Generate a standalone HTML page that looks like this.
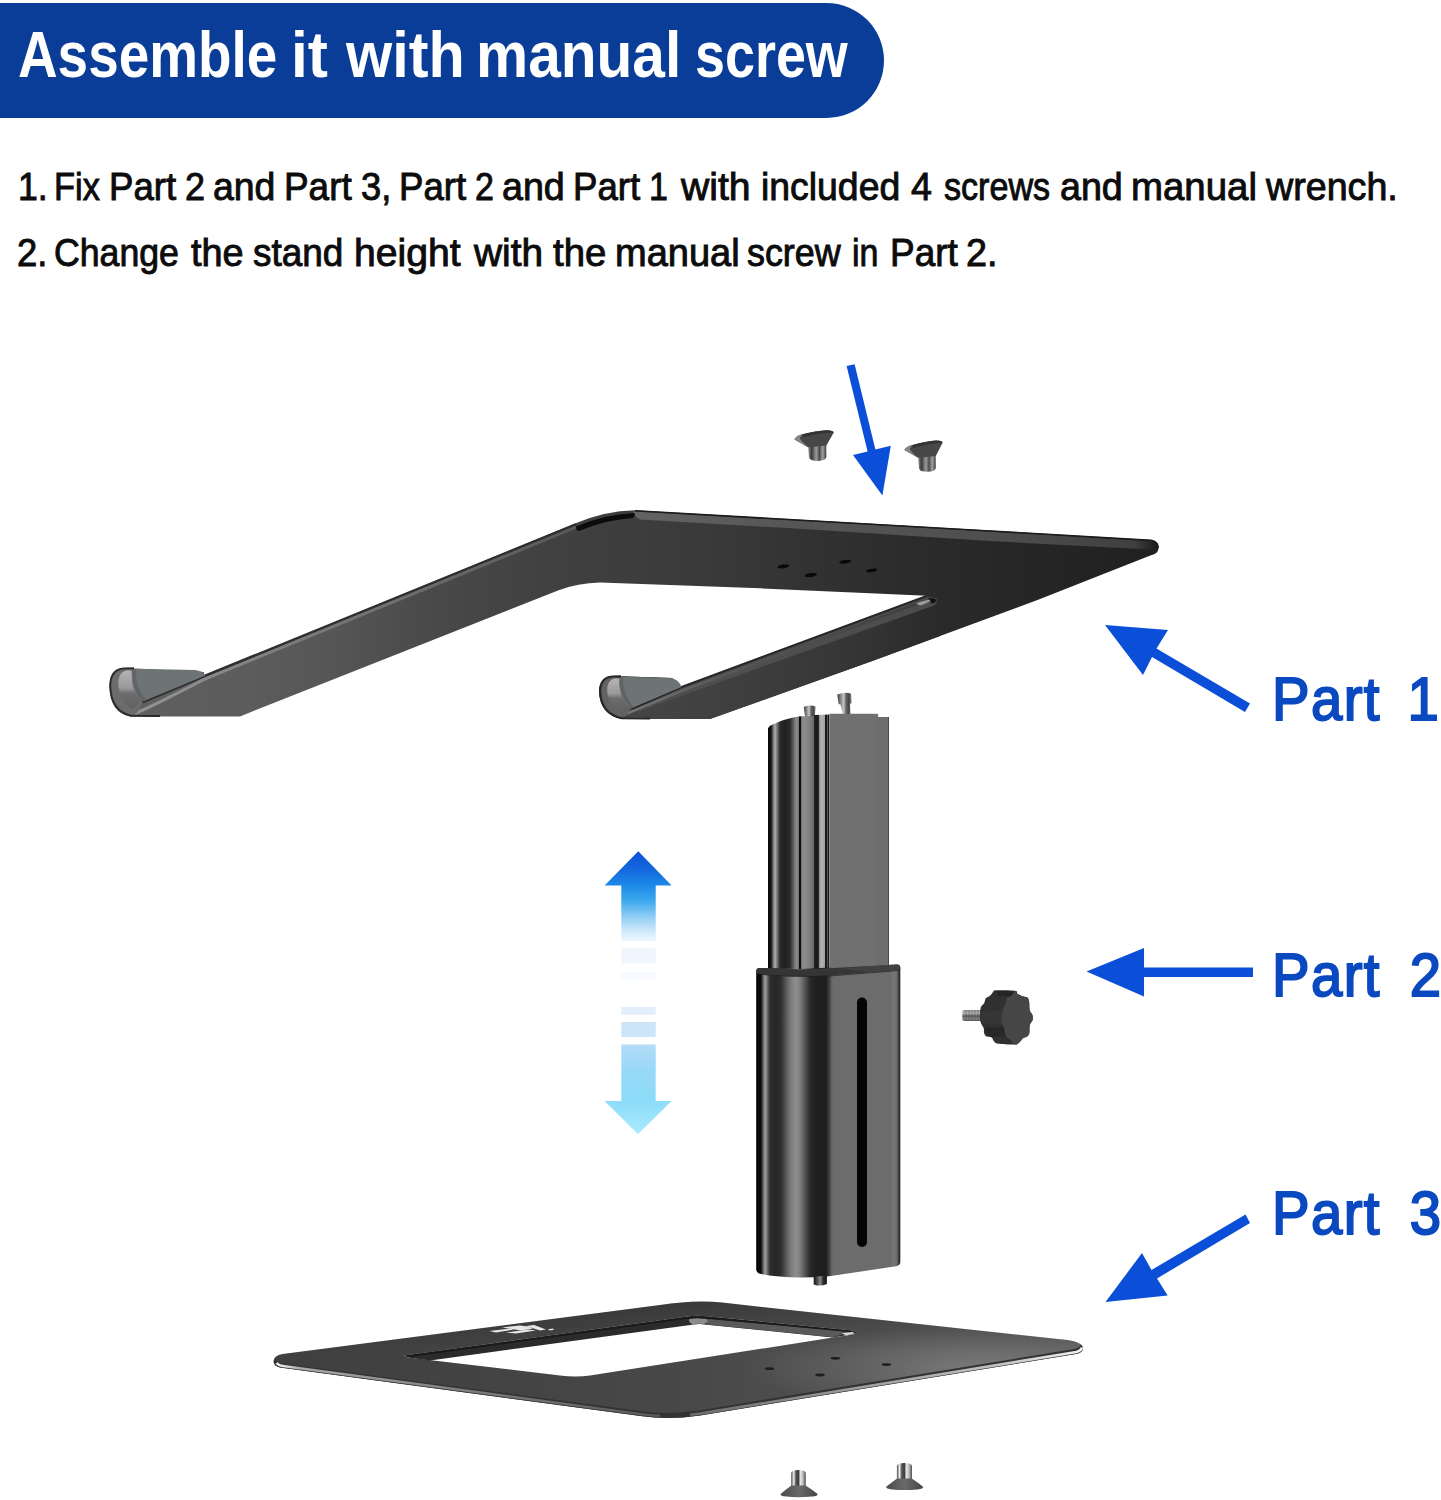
<!DOCTYPE html>
<html lang="en">
<head>
<meta charset="utf-8">
<title>Assemble it with manual screw</title>
<style>
html,body{margin:0;padding:0;background:#fff;overflow:hidden;}
html{width:1441px;height:1500px;}
body{width:1441px;height:1500px;position:relative;overflow:hidden;font-family:"Liberation Sans",sans-serif;}
#art{position:absolute;left:0;top:0;width:1441px;height:1500px;display:block;}
.banner{position:absolute;left:0;top:2.5px;width:884px;height:115px;background:#0a3d97;border-radius:0 57.5px 57.5px 0;}
.title{position:absolute;left:0;top:15.5px;width:880px;height:78px;margin:0;font-size:65px;line-height:78px;font-weight:bold;color:#fff;white-space:nowrap;}
.step{position:absolute;left:0;width:1441px;height:48px;margin:0;font-size:39.5px;line-height:48px;color:#0c0c0c;white-space:nowrap;-webkit-text-stroke:0.95px #0c0c0c;}
.title span,.step span{position:absolute;top:0;transform-origin:0 0;white-space:pre;}
.s1{top:162px;}
.s2{top:227.5px;}
.part{position:absolute;left:1272.4px;margin:0;font-size:61.5px;line-height:70px;color:#0b49c0;white-space:nowrap;-webkit-text-stroke:2px #0b49c0;transform-origin:0 50%;transform:scaleX(0.916);word-spacing:13px;letter-spacing:1.5px;}
.p1{top:664.3px;word-spacing:10.5px;}
.p2{top:940.3px;}
.p3{top:1178.4px;}
</style>
</head>
<body>
<div class="banner"></div>
<h1 class="title"><span style="left:17.5px;transform:scaleX(0.844)">Assemble</span> <span style="left:291.4px;transform:scaleX(0.930)">it</span> <span style="left:345.7px;transform:scaleX(0.913)">with</span> <span style="left:475.7px;transform:scaleX(0.902)">manual</span> <span style="left:694.8px;transform:scaleX(0.829)">screw</span></h1>
<p class="step s1"><span style="left:18.0px;transform:scaleX(0.901)">1.</span> <span style="left:54.0px;transform:scaleX(0.870)">Fix</span> <span style="left:108.8px;transform:scaleX(0.926)">Part</span> <span style="left:185.0px;transform:scaleX(0.911)">2</span> <span style="left:213.3px;transform:scaleX(0.947)">and</span> <span style="left:283.7px;transform:scaleX(0.934)">Part</span> <span style="left:360.5px;transform:scaleX(0.918)">3,</span> <span style="left:398.6px;transform:scaleX(0.926)">Part</span> <span style="left:474.7px;transform:scaleX(0.860)">2</span> <span style="left:501.6px;transform:scaleX(0.953)">and</span> <span style="left:572.8px;transform:scaleX(0.926)">Part</span> <span style="left:648.7px;transform:scaleX(0.860)">1</span> <span style="left:680.7px;transform:scaleX(0.990)">with</span> <span style="left:760.6px;transform:scaleX(0.946)">included</span> <span style="left:911.4px;transform:scaleX(0.952)">4</span> <span style="left:943.8px;transform:scaleX(0.863)">screws</span> <span style="left:1059.6px;transform:scaleX(0.953)">and</span> <span style="left:1130.7px;transform:scaleX(0.972)">manual</span> <span style="left:1265.8px;transform:scaleX(0.953)">wrench.</span></p>
<p class="step s2"><span style="left:17.4px;transform:scaleX(0.922)">2.</span> <span style="left:54.2px;transform:scaleX(0.903)">Change</span> <span style="left:190.5px;transform:scaleX(0.958)">the</span> <span style="left:252.9px;transform:scaleX(0.935)">stand</span> <span style="left:353.8px;transform:scaleX(0.990)">height</span> <span style="left:474.0px;transform:scaleX(0.982)">with</span> <span style="left:553.3px;transform:scaleX(0.970)">the</span> <span style="left:615.3px;transform:scaleX(0.962)">manual</span> <span style="left:747.3px;transform:scaleX(0.908)">screw</span> <span style="left:852.4px;transform:scaleX(0.860)">in</span> <span style="left:890.2px;transform:scaleX(0.936)">Part</span> <span style="left:966.3px;transform:scaleX(0.956)">2.</span></p>
<svg id="art" viewBox="0 0 1441 1500" width="1441" height="1500">
<defs>
<linearGradient id="g1plate" gradientUnits="userSpaceOnUse" x1="110" y1="0" x2="1160" y2="0">
  <stop offset="0.0000" stop-color="#606060"/>
  <stop offset="0.1333" stop-color="#5c5c5c"/>
  <stop offset="0.2095" stop-color="#565656"/>
  <stop offset="0.2762" stop-color="#4d4d4d"/>
  <stop offset="0.3429" stop-color="#464646"/>
  <stop offset="0.4286" stop-color="#404040"/>
  <stop offset="0.5048" stop-color="#3d3d3d"/>
  <stop offset="0.5619" stop-color="#3a3a3a"/>
  <stop offset="0.6571" stop-color="#333333"/>
  <stop offset="0.7524" stop-color="#2c2c2c"/>
  <stop offset="0.8476" stop-color="#272727"/>
  <stop offset="1.0000" stop-color="#202020"/>
</linearGradient>
<linearGradient id="g1rarm" gradientUnits="userSpaceOnUse" x1="600" y1="0" x2="940" y2="0">
  <stop offset="0.0000" stop-color="#464646"/>
  <stop offset="0.2941" stop-color="#414141"/>
  <stop offset="0.5882" stop-color="#3a3a3a"/>
  <stop offset="0.8235" stop-color="#323232"/>
  <stop offset="1.0000" stop-color="#2a2a2a"/>
</linearGradient>
<linearGradient id="g1strip" gradientUnits="userSpaceOnUse" x1="630" y1="0" x2="1160" y2="0">
  <stop offset="0" stop-color="#646464"/>
  <stop offset="0.3" stop-color="#565656"/>
  <stop offset="0.7" stop-color="#4e4e4e"/>
  <stop offset="0.95" stop-color="#404040"/>
  <stop offset="1" stop-color="#181818"/>
</linearGradient>
<linearGradient id="g1hl" gradientUnits="userSpaceOnUse" x1="130" y1="0" x2="580" y2="0">
  <stop offset="0" stop-color="#959595"/>
  <stop offset="0.35" stop-color="#7c7c7c"/>
  <stop offset="1" stop-color="#585858"/>
</linearGradient>
<linearGradient id="g1hl2" gradientUnits="userSpaceOnUse" x1="620" y1="0" x2="940" y2="0">
  <stop offset="0" stop-color="#787878"/>
  <stop offset="0.3" stop-color="#5a5a5a"/>
  <stop offset="1" stop-color="#3a3a3a"/>
</linearGradient>
<linearGradient id="glip" x1="0" y1="0" x2="0" y2="1">
  <stop offset="0" stop-color="#b4b4b4"/>
  <stop offset="0.45" stop-color="#9a9a9a"/>
  <stop offset="0.6" stop-color="#6c6c6c"/>
  <stop offset="1" stop-color="#606060"/>
</linearGradient>

<linearGradient id="gcolA" gradientUnits="userSpaceOnUse" x1="768" y1="0" x2="801" y2="0">
  <stop offset="0.0000" stop-color="#080808"/>
  <stop offset="0.0909" stop-color="#141414"/>
  <stop offset="0.1515" stop-color="#6a6a6a"/>
  <stop offset="0.2121" stop-color="#b0b0b0"/>
  <stop offset="0.2727" stop-color="#7a7a7a"/>
  <stop offset="0.3636" stop-color="#2a2a2a"/>
  <stop offset="0.5152" stop-color="#202020"/>
  <stop offset="0.6667" stop-color="#2a2a2a"/>
  <stop offset="0.7576" stop-color="#585858"/>
  <stop offset="0.8485" stop-color="#8a8a8a"/>
  <stop offset="0.9273" stop-color="#7a7a7a"/>
  <stop offset="0.9515" stop-color="#0c0c0c"/>
  <stop offset="1.0000" stop-color="#0c0c0c"/>
</linearGradient>
<linearGradient id="gcolB" gradientUnits="userSpaceOnUse" x1="801" y1="0" x2="829.5" y2="0">
  <stop offset="0.0000" stop-color="#6a6a6a"/>
  <stop offset="0.0702" stop-color="#8e8e8e"/>
  <stop offset="0.2105" stop-color="#868686"/>
  <stop offset="0.3509" stop-color="#7a7a7a"/>
  <stop offset="0.4386" stop-color="#6a6a6a"/>
  <stop offset="0.4737" stop-color="#222222"/>
  <stop offset="0.5614" stop-color="#181818"/>
  <stop offset="0.6246" stop-color="#2c2c2c"/>
  <stop offset="0.6526" stop-color="#a0a0a0"/>
  <stop offset="0.7368" stop-color="#b2b2b2"/>
  <stop offset="0.8281" stop-color="#a0a0a0"/>
  <stop offset="0.8561" stop-color="#1a1a1a"/>
  <stop offset="0.8982" stop-color="#1a1a1a"/>
  <stop offset="0.9263" stop-color="#5a5a5a"/>
  <stop offset="0.9614" stop-color="#141414"/>
  <stop offset="1.0000" stop-color="#4a4a4a"/>
</linearGradient>
<linearGradient id="gsleeve" gradientUnits="userSpaceOnUse" x1="756" y1="0" x2="900.5" y2="0">
  <stop offset="0.0000" stop-color="#050505"/>
  <stop offset="0.0346" stop-color="#0c0c0c"/>
  <stop offset="0.0484" stop-color="#5a5a5a"/>
  <stop offset="0.0623" stop-color="#a0a0a0"/>
  <stop offset="0.0796" stop-color="#6a6a6a"/>
  <stop offset="0.0969" stop-color="#2e2e2e"/>
  <stop offset="0.1384" stop-color="#262626"/>
  <stop offset="0.1730" stop-color="#2e2e2e"/>
  <stop offset="0.2076" stop-color="#585858"/>
  <stop offset="0.2422" stop-color="#7c7c7c"/>
  <stop offset="0.2768" stop-color="#8e8e8e"/>
  <stop offset="0.3045" stop-color="#7e7e7e"/>
  <stop offset="0.3391" stop-color="#555555"/>
  <stop offset="0.3737" stop-color="#2a2a2a"/>
  <stop offset="0.4152" stop-color="#1e1e1e"/>
  <stop offset="0.4844" stop-color="#1e1e1e"/>
  <stop offset="0.5052" stop-color="#3a3a3a"/>
  <stop offset="0.5260" stop-color="#686868"/>
  <stop offset="0.5398" stop-color="#6c6c6c"/>
  <stop offset="0.9273" stop-color="#6c6c6c"/>
  <stop offset="0.9550" stop-color="#777777"/>
  <stop offset="0.9758" stop-color="#6a6a6a"/>
  <stop offset="0.9896" stop-color="#333333"/>
  <stop offset="1.0000" stop-color="#1a1a1a"/>
</linearGradient>
<linearGradient id="gpin" x1="0" y1="0" x2="1" y2="0">
  <stop offset="0" stop-color="#3a3a3a"/>
  <stop offset="0.25" stop-color="#8a8a8a"/>
  <stop offset="0.45" stop-color="#c8c8c8"/>
  <stop offset="0.6" stop-color="#6a6a6a"/>
  <stop offset="0.8" stop-color="#444444"/>
  <stop offset="1" stop-color="#808080"/>
</linearGradient>
<linearGradient id="gpin2" x1="0" y1="0" x2="1" y2="0">
  <stop offset="0" stop-color="#111"/>
  <stop offset="0.3" stop-color="#555"/>
  <stop offset="0.5" stop-color="#8a8a8a"/>
  <stop offset="0.7" stop-color="#333"/>
  <stop offset="1" stop-color="#111"/>
</linearGradient>
<linearGradient id="gscrewv" x1="0" y1="0" x2="0" y2="1">
  <stop offset="0" stop-color="#8e8e8e"/>
  <stop offset="0.3" stop-color="#b5b5b5"/>
  <stop offset="0.55" stop-color="#5a5a5a"/>
  <stop offset="0.8" stop-color="#8a8a8a"/>
  <stop offset="1" stop-color="#555"/>
</linearGradient>

<linearGradient id="gup" gradientUnits="userSpaceOnUse" x1="0" y1="851" x2="0" y2="942">
  <stop offset="0" stop-color="#0d4fd6"/>
  <stop offset="0.2" stop-color="#1467de"/>
  <stop offset="0.38" stop-color="#1c8ae8"/>
  <stop offset="0.55" stop-color="#3ea9ee"/>
  <stop offset="0.72" stop-color="#8fcdf5"/>
  <stop offset="0.88" stop-color="#cfe9fb"/>
  <stop offset="1" stop-color="#f1f8fe"/>
</linearGradient>
<linearGradient id="gdown" gradientUnits="userSpaceOnUse" x1="0" y1="1044" x2="0" y2="1134">
  <stop offset="0" stop-color="#b4dcf7"/>
  <stop offset="0.3" stop-color="#98d8f8"/>
  <stop offset="0.62" stop-color="#8cdcf9"/>
  <stop offset="1" stop-color="#aaeafc"/>
</linearGradient>

<linearGradient id="gbase" gradientUnits="userSpaceOnUse" x1="273" y1="0" x2="1085" y2="0">
  <stop offset="0.0000" stop-color="#3f3f3f"/>
  <stop offset="0.2549" stop-color="#434343"/>
  <stop offset="0.5012" stop-color="#484848"/>
  <stop offset="0.6798" stop-color="#4f4f4f"/>
  <stop offset="0.8461" stop-color="#575757"/>
  <stop offset="1.0000" stop-color="#5a5a5a"/>
</linearGradient>
<linearGradient id="gbedgeR" gradientUnits="userSpaceOnUse" x1="690" y1="0" x2="1082" y2="0">
  <stop offset="0" stop-color="#6a6a6a"/>
  <stop offset="0.4" stop-color="#9a9a9a"/>
  <stop offset="0.8" stop-color="#c4c4c4"/>
  <stop offset="1" stop-color="#f2f2f2"/>
</linearGradient>
<linearGradient id="gbedgeL" gradientUnits="userSpaceOnUse" x1="278" y1="0" x2="660" y2="0">
  <stop offset="0" stop-color="#f0f0f0"/>
  <stop offset="0.06" stop-color="#a8a8a8"/>
  <stop offset="0.5" stop-color="#7c7c7c"/>
  <stop offset="1" stop-color="#5a5a5a"/>
</linearGradient>
<linearGradient id="gshaft" x1="0" y1="0" x2="1" y2="0">
  <stop offset="0" stop-color="#4a4a4a"/>
  <stop offset="0.18" stop-color="#f0f0f0"/>
  <stop offset="0.32" stop-color="#555"/>
  <stop offset="0.5" stop-color="#3c3c3c"/>
  <stop offset="0.62" stop-color="#e8e8e8"/>
  <stop offset="0.8" stop-color="#bdbdbd"/>
  <stop offset="1" stop-color="#4c4c4c"/>
</linearGradient>
<linearGradient id="gshaft2" x1="0" y1="0" x2="1" y2="0">
  <stop offset="0" stop-color="#9a9a9a"/>
  <stop offset="0.2" stop-color="#3a3a3a"/>
  <stop offset="0.45" stop-color="#9c9c9c"/>
  <stop offset="0.62" stop-color="#4a4a4a"/>
  <stop offset="0.8" stop-color="#a2a2a2"/>
  <stop offset="1" stop-color="#3c3c3c"/>
</linearGradient>
<linearGradient id="gcone" x1="0" y1="0" x2="1" y2="0">
  <stop offset="0" stop-color="#4a4a4a"/>
  <stop offset="0.5" stop-color="#6a6a6a"/>
  <stop offset="1" stop-color="#454545"/>
</linearGradient>

<clipPath id="cbase"><path clip-rule="evenodd" d="M282.5,1354 L660,1305 Q695,1299.5 722,1302.6 L1067.5,1340 Q1082,1342 1083,1347.6 Q1083,1352.6 1077.5,1353.8 L700,1415.4 Q668,1420 642.5,1416.2 L280,1367.6 Q273.4,1366 273.6,1361 Q274,1355.6 282.5,1354 Z
   M405,1355.4 L686,1316.8 Q695,1315.2 706,1316.2 L852,1330.4 Q858,1331.2 857,1333.4 L852,1334.6 L590,1375.6 Q575,1377.4 560,1375.4 L408,1357.6 Q403,1356.6 405,1355.4 Z"/></clipPath>
<radialGradient id="gbhi" gradientUnits="userSpaceOnUse" cx="0" cy="0" r="1" gradientTransform="translate(975 1368) scale(230 42)">
  <stop offset="0" stop-color="#ffffff" stop-opacity="0.2"/>
  <stop offset="0.5" stop-color="#ffffff" stop-opacity="0.1"/>
  <stop offset="1" stop-color="#ffffff" stop-opacity="0"/>
</radialGradient>
<linearGradient id="gbback" gradientUnits="userSpaceOnUse" x1="0" y1="1298" x2="0" y2="1350">
  <stop offset="0" stop-color="#000000" stop-opacity="0.22"/>
  <stop offset="1" stop-color="#000000" stop-opacity="0"/>
</linearGradient>
</defs>

<!--PART1-->
<g id="part1">
  <!-- silhouette -->
  <path fill="url(#g1plate)" d="M124,668 L204,672 L204,676 L540,538 L575,523.6 Q604,511 635,510.3 L990,530.6 L1151,540 Q1159,541.5 1158.6,548 Q1158,554 1151,555.2 L1037.5,600 L875,660 L710,719 L622,719 Q600,715 599,691 Q600,677 612.5,676 L672,678 L681,687 L926.7,595.8 L760,588.3 L600,582.6 Q578,583 558,590.5 L240,716.4 L130,716.4 Q110,713 109.4,686 Q110,669 124,668 Z"/>
  <path fill="url(#g1rarm)" d="M710,719 L622,719 Q600,715 599,691 Q600,677 612.5,676 L672,678 L681,687 L926.7,595.8 L936.7,598.3 L940,636 L875,660 Z"/>
  <!-- top strip (plate thickness) -->
  <path fill="url(#g1strip)" d="M633,511.5 L990,531.6 L1151,541 Q1158,543 1157.5,548 L1150,549.5 L990,541 L800,528.7 L640,519.5 Q634,516 633,511.5 Z"/>
  <path fill="none" stroke="#1c1c1c" stroke-width="1.6" d="M635,510.8 L990,531 L1151,540.4 Q1158.5,542 1158,548"/>
  <!-- shadow crescent at bend -->
  <path fill="#0b0b0b" d="M576,526.5 Q604,514.5 634,513 Q636,515 633,518 Q606,519.5 579,531 Q575,530 576,526.5 Z"/>
  <!-- left arm edge: dark line + highlight -->
  <path fill="none" stroke="#2e2e2e" stroke-width="2.6" d="M142,702.3 L204,676.2 L576,524.4"/>
  <path fill="none" stroke="url(#g1hl)" stroke-width="3" d="M135,713.4 Q150,707.6 204,679.4 L576,527.2"/>
  <!-- right arm inner band -->
  <path fill="#505050" opacity="0.9" d="M926.7,596.3 L936.5,598.5 Q938.4,603 934,605.4 L770,664 L640,711 L630,709.5 L683,687 Z"/>
  <path fill="none" stroke="#262626" stroke-width="2.2" d="M631,709.2 L681,687.2 L926.7,596"/>
  <path fill="none" stroke="url(#g1hl2)" stroke-width="2.6" d="M625,714.4 L683,690.4 L926,600.4"/>
  <path fill="#9a9a9a" d="M916,603.5 Q926,599.5 931,599.8 Q929,603 920,605.5 Z"/>
  <path fill="#111" d="M927,598 Q934,597.5 936.6,600 Q935,603.5 931,603.5 Q932,600.5 927,598 Z"/>
  <!-- holes -->
  <g fill="#090909">
    <ellipse cx="783.3" cy="566.4" rx="6" ry="1.8" transform="rotate(-9 783.3 566.4)"/>
    <ellipse cx="810.8" cy="575" rx="6.2" ry="1.9" transform="rotate(-9 810.8 575)"/>
    <ellipse cx="845.3" cy="561.7" rx="6.2" ry="1.8" transform="rotate(-8 845.3 561.7)"/>
    <ellipse cx="871.7" cy="570.4" rx="5.6" ry="1.7" transform="rotate(-9 871.7 570.4)"/>
  </g>
  <!-- hooks -->
  <g id="hookL">
    <path fill="#6c6c6c" d="M125,669.3 Q111.5,670.5 111.6,686 Q112,709 131,714.6 L137,713 L143,702 Q131,692 131,672 Z"/>
    <path fill="url(#glip)" d="M127,670.2 Q117.5,672 118.4,686 Q119.4,702 133,709 L141,700.5 Q131,690 131.6,670.6 Z"/>
    <path fill="#6e7375" d="M136,668.8 L195,670 Q203,670.8 205.5,675.4 L143.5,701.2 Q137,698 133,686 Q130,670 136,668.8 Z"/>
    <path fill="#5f6466" d="M133,672 Q131,690 143.5,701.2 L146,700 Q135,688 136,669 Z"/>
    <path fill="none" stroke="#2a2a2a" stroke-width="1.8" d="M134,668.2 L124,668.4 Q110.2,669.4 110.2,686 Q110.8,711 131,715.8 L160,716"/>
  </g>
  <g id="hookR">
    <path fill="#626262" d="M613.5,677.3 Q601.5,678.5 601.6,691 Q602,711.5 621,717 L627,715.6 L631,708 Q619,699 619,680 Z"/>
    <path fill="url(#glip)" d="M615,678.2 Q606.5,680 607.2,691 Q608.2,705.5 621,712 L629,706.5 Q619,697 619.6,678.6 Z"/>
    <path fill="#6e7375" d="M622,676.8 L672,678.2 Q679,680 681.5,687 L631,708.4 Q623,703 620.5,692 Q617,677 622,676.8 Z"/>
    <path fill="#5f6466" d="M620,679 Q618.5,696 631,708.4 L633.5,707.3 Q622.5,694 623,677 Z"/>
    <path fill="none" stroke="#262626" stroke-width="1.8" d="M621,676.2 L612.5,676.4 Q600,677.4 600,691 Q600.6,714 622,718.4 L650,718.6"/>
  </g>
</g>
<!--PART2-->
<g id="part2">
  <!-- pins on top -->
  <path fill="url(#gpin)" d="M803.7,707 Q809.5,704.5 815.6,706.5 L814.6,720 L805.6,720 Z"/>
  <path fill="url(#gpin)" d="M837.3,694.5 Q844,691.5 851,693.5 L851.6,703 L850,704 L850.5,716 L843.5,716 L840.5,704.5 L838.6,704 Z"/>
  <!-- inner column -->
  <path fill="url(#gcolA)" d="M768,728.5 Q768.5,726.5 771,725.3 Q784,718.6 800,716.2 L801,716.2 L801,972 L768,972 Z"/>
  <path fill="url(#gcolB)" d="M801,716.3 L813.7,716.3 L814,715 L829.5,714.6 L829.5,972 L801,972 Z"/>
  <path fill="#707070" d="M829.5,713.8 L877.5,713.8 L877.5,972 L829.5,972 Z"/>
  <path fill="#6e6e6e" d="M877.5,717 L888.8,717 L888.8,972 L877.5,972 Z"/>
  <path fill="none" stroke="#666666" stroke-width="1" d="M877.7,714 L877.7,966"/>
  <path fill="none" stroke="#4a4a4a" stroke-width="1" d="M888.5,717 L888.5,966"/>
  <!-- sleeve -->
  <path fill="url(#gsleeve)" d="M756.2,971 Q756.2,968.3 759,968 L800,969 L830,967.5 L897,964.6 Q900.3,964.6 900.3,968 L900.3,1262 Q900.3,1265.6 896,1266.3 L829,1276.3 Q800,1278.5 780,1276.6 Q764,1275 759,1273.4 Q756.2,1272.4 756.2,1269 Z"/>
  <!-- sleeve top rim -->
  <path fill="#353535" d="M756.6,970.5 Q757,968.2 759.5,968 L768,968 L801,969.5 L829.5,968.2 L889,965 L897,964.6 Q900,964.8 900.2,967.5 L900.2,969.8 L829.5,975.4 Q800,977 780,975.8 Q764,974.8 756.6,973.4 Z"/>
  <path fill="#4a4a4a" d="M889,965 L897,964.6 Q900,964.8 900.2,967.5 L900.2,969.6 L870,972 L840,968.6 Z" opacity="0.6"/>
  <path fill="none" stroke="#1e1e1e" stroke-width="1" opacity="0.7" d="M757,974 Q790,977.6 829.5,976 L900,970.4"/>
  <!-- slot -->
  <rect x="857" y="997.6" width="10" height="249.4" rx="5" ry="5" fill="#050505"/>
  <!-- bottom pin -->
  <path fill="url(#gpin2)" d="M813.7,1276.5 L826.9,1276 L826.9,1284 Q820,1287 813.7,1284.4 Z"/>
</g>
<!--PART3-->
<g id="part3">
  <!-- plate top surface with cutout -->
  <path fill="url(#gbase)" fill-rule="evenodd" d="M282.5,1354 L660,1305 Q695,1299.5 722,1302.6 L1067.5,1340 Q1082,1342 1083,1347.6 Q1083,1352.6 1077.5,1353.8 L700,1415.4 Q668,1420 642.5,1416.2 L280,1367.6 Q273.4,1366 273.6,1361 Q274,1355.6 282.5,1354 Z
   M405,1355.4 L686,1316.8 Q695,1315.2 706,1316.2 L852,1330.4 Q858,1331.2 857,1333.4 L852,1334.6 L590,1375.6 Q575,1377.4 560,1375.4 L408,1357.6 Q403,1356.6 405,1355.4 Z"/>
  <g clip-path="url(#cbase)">
    <rect x="270" y="1295" width="820" height="60" fill="url(#gbback)"/>
    <rect x="700" y="1300" width="400" height="125" fill="url(#gbhi)"/>
  </g>
  <!-- cutout inner wall -->
  <path fill="#2b2b2b" d="M405,1355.4 L686,1316.8 Q695,1315.2 706,1316.2 L852,1330.4 Q858,1331.2 857,1333.4 L832.5,1337.5 L704,1324.4 Q700,1323.6 694,1324.4 L430,1360.4 L408,1357.6 Q403,1356.6 405,1355.4 Z"/>
  <path fill="#5a5a5a" d="M708,1318.6 L850,1332.2 L832.5,1337.3 L706,1324.4 Z"/>
  <path fill="#8c8c8c" d="M690,1318.6 Q697,1317.2 706,1318.6 Q710,1322 704,1324 Q698,1323.4 692,1324.2 Q687,1321 690,1318.6 Z"/>
  <path fill="#d8d8d8" d="M842,1333.2 L852.4,1332 L855,1333.2 L846,1335.4 Z"/>
  <path fill="#1a1a1a" d="M405.4,1355.6 L686,1317 Q695,1315.6 706,1316.6 L852,1330.8 L852,1332 L706,1318.8 Q696,1317.6 688,1318.8 L410,1357 Z"/>
  <!-- front edges (thickness) -->
  <path fill="#333333" d="M1083,1347.6 Q1083,1352.6 1077.5,1353.8 L700,1415.4 Q668,1420 642.5,1416.2 L280,1367.6 Q273.4,1366 273.6,1361 L276,1359.4 Q277,1362.8 283,1363.6 L644,1411.6 Q668,1414.8 699,1410.4 L1074,1349 Q1080,1347.8 1081,1344.4 Z"/>
  <path fill="none" stroke="url(#gbedgeR)" stroke-width="2.6" d="M690,1414.8 L700,1413.6 L1076.5,1352 Q1081.5,1350.6 1081.8,1347.4"/>
  <path fill="none" stroke="url(#gbedgeL)" stroke-width="2.4" d="M276.6,1363 Q278.6,1365.6 283,1366 L642.5,1414.4 Q652,1415.6 660,1415.8"/>
  <!-- logo -->
  <g fill="#e6e6e6">
    <path d="M489.5,1331 L510,1328.4 L514,1329.6 L496,1332.4 Z"/>
    <path d="M502,1327.6 L520,1325.4 L528,1326.4 L533,1328.6 L521,1330.4 L512,1329 Z"/>
    <path d="M506,1332.4 L528,1329.6 L536,1330.4 L516,1333.6 Z"/>
    <path d="M526,1326 L534,1325 L546,1329.4 L540,1330.4 Z"/>
    <path d="M548,1329.2 L553,1328.6 L554,1329.8 L549.6,1330.4 Z"/>
  </g>
  <!-- holes -->
  <g fill="#1e1e1e">
    <ellipse cx="769.5" cy="1368.7" rx="4.6" ry="1.35"/>
    <ellipse cx="820" cy="1375" rx="4.8" ry="1.4"/>
    <ellipse cx="835.4" cy="1358.3" rx="4.8" ry="1.35"/>
    <ellipse cx="886.4" cy="1364.6" rx="4.8" ry="1.35"/>
  </g>
</g>
<!--SCREWS-->
<g id="screws">
  <!-- top left -->
  <path fill="url(#gshaft2)" d="M808,445 L826.2,444 L826.4,457 Q826,460.6 818,461 Q809.6,461 809,457.6 Z"/>
  <path fill="#474747" d="M794.4,439.4 Q796,435.6 802.5,434.2 Q816,430.6 827,430.2 Q833.4,430.4 833.8,432.6 L826.4,445.4 L808,447.2 Z"/>
  <path fill="#8d8d8d" d="M794.4,439.4 Q796,435.6 802.5,434.2 L800.4,437 Q797.6,438 808,447.2 Z" opacity="0.9"/>
  <path fill="#333" d="M802.5,434.2 Q816,430.6 827,430.2 Q833.4,430.4 833.8,432.6 Q820,432.6 803,437.6 Z"/>
  <!-- top right -->
  <path fill="url(#gshaft2)" d="M918,455.6 L935.6,454.6 L935.8,468 Q935.4,471.4 927.6,471.8 Q919.6,471.8 919,468.6 Z"/>
  <path fill="#474747" d="M904.4,450 Q906,446.4 912.5,445 Q926,441 936.4,440.5 Q942.2,440.6 942.6,442.8 L935.8,456 L918,457.8 Z"/>
  <path fill="#8d8d8d" d="M904.4,450 Q906,446.4 912.5,445 L910.4,447.8 Q907.6,448.8 918,457.8 Z" opacity="0.9"/>
  <path fill="#333" d="M912.5,445 Q926,441 936.4,440.5 Q942.2,440.6 942.6,442.8 Q929,443 913,448.2 Z"/>
  <!-- bottom left -->
  <path fill="url(#gshaft)" d="M791.2,1473 Q791.4,1470.4 798.4,1470 Q805.4,1470.2 805.8,1473 L805.8,1487 L791.2,1487 Z"/>
  <path fill="url(#gcone)" d="M791.4,1485.6 L805.6,1485.6 Q812,1489.6 817.6,1494 Q818,1496 812,1496.6 Q798,1498 786,1496.6 Q780.2,1496 780.6,1494 Q786,1489.6 791.4,1485.6 Z"/>
  <!-- bottom right -->
  <path fill="url(#gshaft)" d="M896.9,1466 Q897.2,1463.4 904.4,1463 Q911.6,1463.2 912,1466 L912,1480 L896.9,1480 Z"/>
  <path fill="url(#gcone)" d="M897,1478.4 L911.8,1478.4 Q918,1482.4 923,1486.8 Q923.6,1488.8 917.6,1489.4 Q904,1490.8 892,1489.4 Q885.8,1488.8 886.2,1486.8 Q891.6,1482.4 897,1478.4 Z"/>
</g>
<!--KNOB-->
<g id="knob">
  <rect x="962.3" y="1010" width="20" height="11" rx="2" fill="url(#gscrewv)"/>
  <g stroke="#4a4a4a" stroke-width="0.8" opacity="0.55"><path d="M966,1010.3 V1020.8 M969,1010.3 V1020.8 M972,1010.3 V1020.8 M975,1010.3 V1020.8 M978,1010.3 V1020.8"/></g>
  <path fill="#303030" d="M995.0,990.4 C998.6,990.2 1011.2,990.3 1015.0,990.8 C1018.7,991.4 1016.1,992.8 1017.4,993.7 C1018.8,994.7 1021.6,995.8 1023.3,996.5 C1024.9,997.1 1026.5,996.8 1027.4,997.6 C1028.4,998.5 1028.7,999.6 1029.1,1001.6 C1029.5,1003.7 1029.1,1007.8 1029.6,1010.0 C1030.2,1012.2 1031.9,1013.3 1032.4,1015.0 C1032.9,1016.6 1033.0,1018.3 1032.6,1020.0 C1032.2,1021.6 1030.3,1022.7 1029.8,1025.0 C1029.2,1027.2 1029.7,1031.3 1029.3,1033.3 C1028.8,1035.2 1028.0,1035.8 1027.0,1036.6 C1026.0,1037.4 1024.7,1037.0 1023.3,1038.1 C1021.9,1039.2 1020.1,1042.0 1018.7,1043.1 C1017.3,1044.2 1018.4,1044.4 1015.0,1044.5 C1011.5,1044.6 1001.8,1044.2 998.3,1043.7 C994.8,1043.2 995.2,1042.6 994.1,1041.6 C993.0,1040.6 992.9,1038.5 991.6,1037.6 C990.4,1036.8 987.9,1037.3 986.6,1036.6 C985.4,1035.9 984.6,1034.7 984.1,1033.3 C983.7,1031.9 984.2,1030.0 983.7,1028.3 C983.2,1026.6 981.6,1025.2 981.0,1023.3 C980.3,1021.4 980.0,1019.3 980.0,1016.6 C979.9,1014.0 980.1,1009.7 980.8,1007.5 C981.5,1005.3 983.3,1004.8 984.1,1003.3 C985.0,1001.8 984.8,999.6 985.8,998.3 C986.8,997.1 988.7,996.9 990.0,995.8 C991.2,994.7 992.5,992.7 993.3,991.8 C994.1,990.9 991.4,990.6 995.0,990.4 Z"/>
  <path fill="#222" opacity="0.85" d="M996,991 L1014,991.5 L1011,996.5 L998,996 Z"/>
  <path fill="#3a3a3a" d="M981,1012 L1003,1010 L1003,1024 L982,1024 Z" opacity="0.6"/>
  <path fill="#242424" d="M984,1028 L1004,1027 L1006,1036 L990,1037 Z" opacity="0.7"/>
  <path fill="#464646" d="M1015.0,990.8 C1015.9,990.5 1016.1,992.8 1017.4,993.7 C1018.8,994.7 1021.6,995.8 1023.3,996.5 C1024.9,997.1 1026.5,996.8 1027.4,997.6 C1028.4,998.5 1028.7,999.6 1029.1,1001.6 C1029.5,1003.7 1029.1,1007.8 1029.6,1010.0 C1030.2,1012.2 1031.9,1013.3 1032.4,1015.0 C1032.9,1016.6 1033.0,1018.3 1032.6,1020.0 C1032.2,1021.6 1030.3,1022.7 1029.8,1025.0 C1029.2,1027.2 1029.7,1031.3 1029.3,1033.3 C1028.8,1035.2 1028.0,1035.8 1027.0,1036.6 C1026.0,1037.4 1024.7,1037.0 1023.3,1038.1 C1021.9,1039.2 1020.1,1042.0 1018.7,1043.1 C1017.3,1044.2 1016.3,1045.1 1015.0,1044.5 C1013.6,1044.0 1012.3,1041.4 1010.8,1040.0 C1009.3,1038.5 1006.9,1037.7 1005.8,1035.8 C1004.7,1033.8 1004.7,1030.4 1004.1,1028.3 C1003.5,1026.2 1002.5,1025.2 1002.0,1023.3 C1001.6,1021.4 1001.5,1019.0 1001.6,1016.6 C1001.8,1014.3 1002.2,1011.4 1002.9,1009.1 C1003.6,1006.9 1005.2,1005.1 1005.8,1003.3 C1006.4,1001.5 1005.7,999.6 1006.6,998.3 C1007.6,997.1 1010.2,997.1 1011.6,995.8 C1013.0,994.6 1014.0,991.2 1015.0,990.8 Z"/>
</g>
<!--UPDOWN-->
<g id="updown">
  <path fill="url(#gup)" d="M638.3,851.2 L671.6,885.4 L655.7,885.4 L655.7,941 L621.3,941 L621.3,885.4 L604.6,885.4 Z"/>
  <rect x="621.3" y="948.4" width="34.4" height="15" fill="#eff6fd"/>
  <rect x="621.3" y="972" width="34.4" height="7.4" fill="#f7fafe"/>
  <rect x="621.3" y="1007" width="34.4" height="7.6" fill="#e2effb"/>
  <rect x="621.3" y="1022" width="34.4" height="15" fill="#cde5f8"/>
  <path fill="url(#gdown)" d="M621.3,1044.4 L655.7,1044.4 L655.7,1101 L671.6,1101 L638,1134.2 L604.6,1101 L621.3,1101 Z"/>
</g>
<!--ARROWS-->
<g id="arrows" fill="#0b4fd8" stroke="none">
  <path d="M846.6,366 L854.6,364.2 L875.4,449.6 L890.8,445.8 L882.4,495.4 L853,455 L867.6,451.4 Z"/>
  <path d="M1105,625 L1168,630 L1156.5,648.5 L1250,703.5 L1245,712 L1152,657 L1143,675 Z"/>
  <path d="M1086.5,971.5 L1144,948 L1144,967.5 L1253,967.5 L1253,977 L1144,977 L1144,996.5 Z"/>
  <path d="M1105.5,1302 L1142,1253 L1151.5,1270 L1245.5,1214.5 L1250,1223 L1157,1278.5 L1167.7,1295.5 Z"/>
</g>
</svg>
<div class="part p1">Part 1</div>
<div class="part p2">Part 2</div>
<div class="part p3">Part 3</div>
</body>
</html>
